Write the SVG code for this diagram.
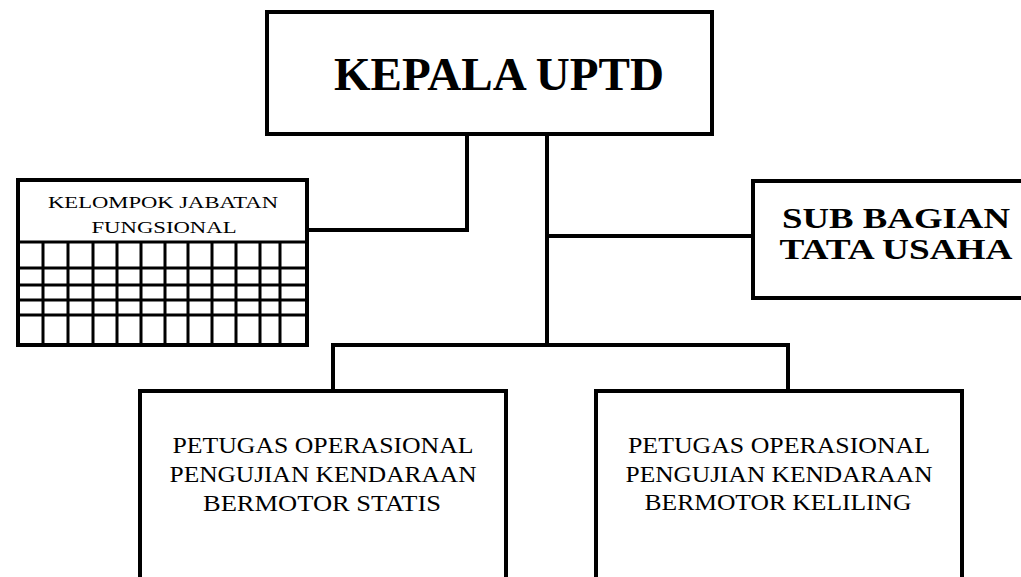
<svg xmlns="http://www.w3.org/2000/svg" width="1021" height="577" viewBox="0 0 1021 577">
<style>
.box{fill:#fff;stroke:#000;stroke-width:4}
.conn{fill:none;stroke:#000;stroke-width:4}
.grid{fill:none;stroke:#000;stroke-width:3}
.big{font-family:"Liberation Serif",serif;font-weight:bold;fill:#000;text-anchor:middle}
.reg{font-family:"Liberation Serif",serif;fill:#000;text-anchor:middle}
</style>
<rect width="1021" height="577" fill="#fff"/>
<g id="connectors">
<path class="conn" d="M467 134 V230 H307"/>
<path class="conn" d="M547 134 V345"/>
<path class="conn" d="M547 236 H753"/>
<path class="conn" d="M333 391 V345 H788 V391"/>
</g>
<g id="kepala">
<rect class="box" x="267" y="12" width="445" height="122"/>
<text class="big" x="499" y="90" font-size="47" textLength="330" lengthAdjust="spacingAndGlyphs">KEPALA UPTD</text>
</g>
<g id="kelompok">
<rect class="box" x="18" y="180" width="289" height="165"/>
<path class="grid" d="M18 242 H307 M18 268 H307 M18 285 H307 M18 300 H307 M18 315 H307 M43 242 V345 M68 242 V345 M93 242 V345 M117 242 V345 M141 242 V345 M165 242 V345 M188 242 V345 M212 242 V345 M236 242 V345 M260 242 V345 M280 242 V345"/>
<text class="reg" x="163" y="208" font-size="17" textLength="230" lengthAdjust="spacingAndGlyphs">KELOMPOK JABATAN</text>
<text class="reg" x="164" y="233" font-size="17" textLength="145" lengthAdjust="spacingAndGlyphs">FUNGSIONAL</text>
</g>
<g id="subbagian">
<rect class="box" x="753" y="181" width="290" height="117"/>
<text class="big" x="896" y="228" font-size="30" textLength="228" lengthAdjust="spacingAndGlyphs">SUB BAGIAN</text>
<text class="big" x="896" y="259" font-size="30" textLength="233" lengthAdjust="spacingAndGlyphs">TATA USAHA</text>
</g>
<g id="statis">
<rect class="box" x="140" y="391" width="366" height="200"/>
<text class="reg" x="323" y="453" font-size="23" textLength="301" lengthAdjust="spacingAndGlyphs">PETUGAS OPERASIONAL</text>
<text class="reg" x="323" y="482" font-size="23" textLength="307" lengthAdjust="spacingAndGlyphs">PENGUJIAN KENDARAAN</text>
<text class="reg" x="322" y="511" font-size="23" textLength="238" lengthAdjust="spacingAndGlyphs">BERMOTOR STATIS</text>
</g>
<g id="keliling">
<rect class="box" x="596" y="391" width="366" height="200"/>
<text class="reg" x="779" y="453" font-size="23" textLength="302" lengthAdjust="spacingAndGlyphs">PETUGAS OPERASIONAL</text>
<text class="reg" x="779" y="482" font-size="23" textLength="307" lengthAdjust="spacingAndGlyphs">PENGUJIAN KENDARAAN</text>
<text class="reg" x="778" y="510" font-size="23" textLength="267" lengthAdjust="spacingAndGlyphs">BERMOTOR KELILING</text>
</g>
</svg>
